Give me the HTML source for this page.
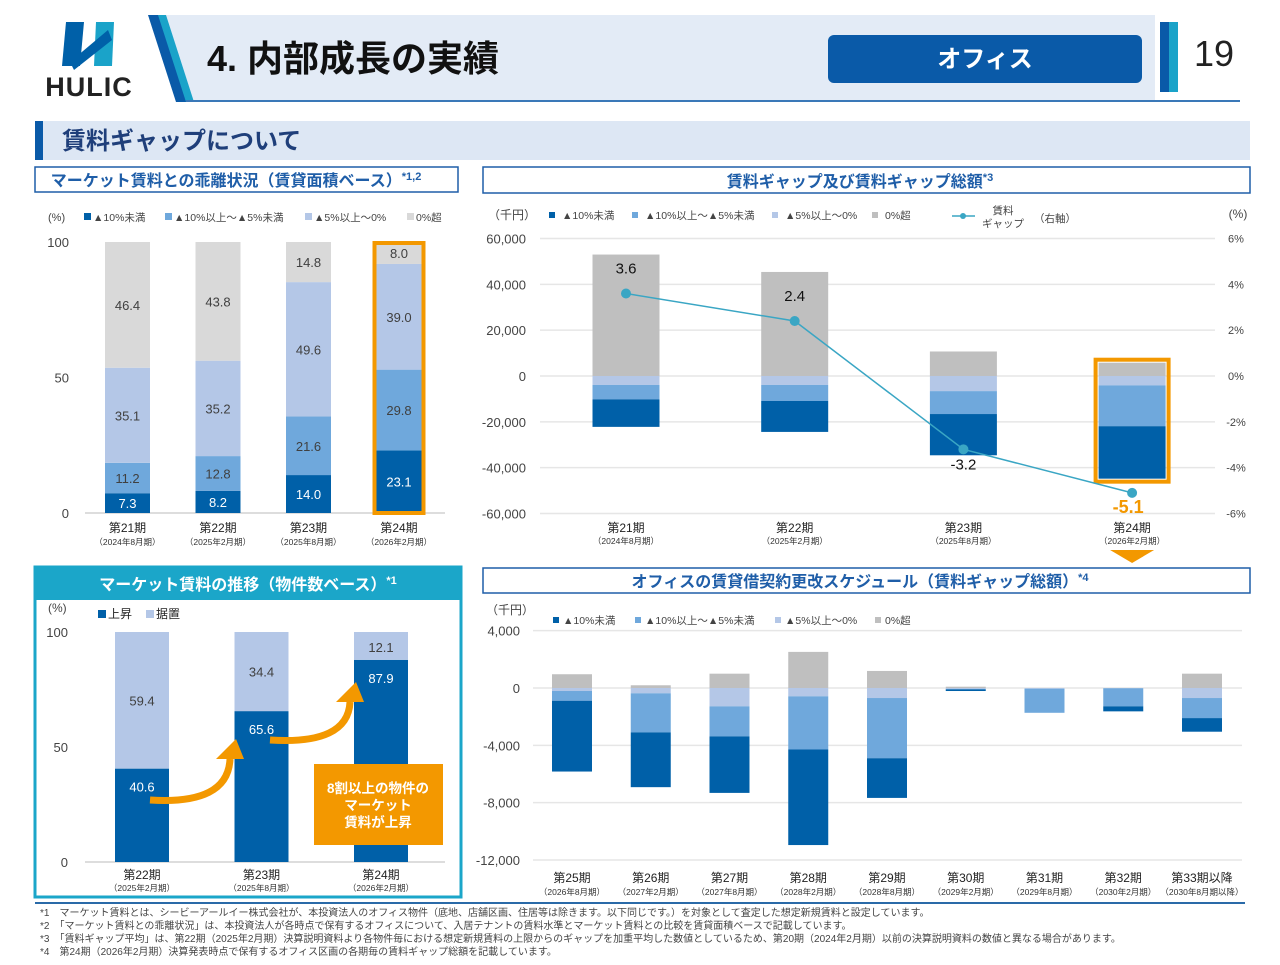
<!DOCTYPE html>
<html lang="ja"><head><meta charset="utf-8">
<style>
html,body{margin:0;padding:0;background:#fff;}
body{width:1280px;height:960px;overflow:hidden;position:relative;font-family:"Liberation Sans","Noto Sans CJK JP",sans-serif;}
svg text{font-family:"Liberation Sans","Noto Sans CJK JP",sans-serif;}
</style></head><body>
<svg id="pg" width="1280" height="960" viewBox="0 0 1280 960" xmlns="http://www.w3.org/2000/svg">
  <g>
    <polygon points="66,22 84,22 80,66 62,66" fill="#0060a8"/>
    <polygon points="96,22 114,22 112,66 94,66" fill="#1aa3c9"/>
    <polygon points="70,62 108,30 112,40 74,70" fill="#0060a8"/>
    <text x="89" y="96" font-size="27" font-weight="bold" fill="#222" text-anchor="middle" letter-spacing="1">HULIC</text>
  </g>
  <polygon points="160,15 1155,15 1155,102 190,102" fill="#e3ebf6"/>
  <polygon points="148,15 162,15 190,102 176,102" fill="#0a5aa8"/>
  <polygon points="158,15 166,15 194,102 186,102" fill="#1aa3c9"/>
  <rect x="186" y="100" width="1054" height="2" fill="#3a78b8"/>
  <text x="207" y="71" font-size="36" font-weight="bold" fill="#111">4. 内部成長の実績</text>
  <rect x="828" y="35" width="314" height="48" rx="6" fill="#0a5aa8"/>
  <text x="985" y="67" font-size="24" font-weight="bold" fill="#fff" text-anchor="middle">オフィス</text>
  <rect x="1160" y="22" width="9" height="70" fill="#0a5aa8"/>
  <rect x="1169" y="22" width="9" height="70" fill="#1aa3c9"/>
  <text x="1214" y="66" font-size="36" fill="#222" text-anchor="middle">19</text>

  <rect x="35" y="121" width="1215" height="39" fill="#dde7f4"/>
  <rect x="35" y="121" width="8" height="39" fill="#0a5aa8"/>
  <text x="62" y="149" font-size="24" font-weight="bold" fill="#1f3f7a">賃料ギャップについて</text>

  <rect x="35" y="167" width="423" height="25" fill="#fff" stroke="#1f5ea8" stroke-width="1.5"/>
  <text x="236" y="186" font-size="16" font-weight="bold" fill="#1f5ea8" text-anchor="middle">マーケット賃料との乖離状況（賃貸面積ベース）<tspan font-size="11" dy="-6">*1,2</tspan></text>
  <rect x="483" y="167" width="767" height="26" fill="#fff" stroke="#1f5ea8" stroke-width="1.5"/>
  <text x="860" y="187" font-size="16" font-weight="bold" fill="#1f5ea8" text-anchor="middle">賃料ギャップ及び賃料ギャップ総額<tspan font-size="11" dy="-6">*3</tspan></text>
  <rect x="483" y="568" width="767" height="25" fill="#fff" stroke="#1f5ea8" stroke-width="1.5"/>
  <text x="860" y="587" font-size="16" font-weight="bold" fill="#1f5ea8" text-anchor="middle">オフィスの賃貸借契約更改スケジュール（賃料ギャップ総額）<tspan font-size="11" dy="-6">*4</tspan></text>

  <rect x="35" y="567" width="426" height="330" fill="#fff" stroke="#1ba6c9" stroke-width="3"/>
  <rect x="35" y="567" width="426" height="33" fill="#1ba6c9"/>
  <text x="248" y="590" font-size="16" font-weight="bold" fill="#fff" text-anchor="middle">マーケット賃料の推移（物件数ベース）<tspan font-size="11" dy="-6">*1</tspan></text>

  <rect x="35" y="902" width="1210" height="2" fill="#2a6aa8"/>
  <g font-size="10" fill="#444">
    <text x="40" y="916">*1　マーケット賃料とは、シービーアールイー株式会社が、本投資法人のオフィス物件（底地、店舗区画、住居等は除きます。以下同じです。）を対象として査定した想定新規賃料と設定しています。</text>
    <text x="40" y="929">*2　「マーケット賃料との乖離状況」は、本投資法人が各時点で保有するオフィスについて、入居テナントの賃料水準とマーケット賃料との比較を賃貸面積ベースで記載しています。</text>
    <text x="40" y="942">*3　「賃料ギャップ平均」は、第22期（2025年2月期）決算説明資料より各物件毎における想定新規賃料の上限からのギャップを加重平均した数値としているため、第20期（2024年2月期）以前の決算説明資料の数値と異なる場合があります。</text>
    <text x="40" y="955">*4　第24期（2026年2月期）決算発表時点で保有するオフィス区画の各期毎の賃料ギャップ総額を記載しています。</text>
  </g>
  <g id="charts"></g>
</svg>
<script>
// ---------- chart 1 data ----------
const c1Cats=['第21期','第22期','第23期','第24期'];
const c1Subs=['（2024年8月期）','（2025年2月期）','（2025年8月期）','（2026年2月期）'];
const c1Dark=[7.3,8.2,14.0,23.1];
const c1Mid=[11.2,12.8,21.6,29.8];
const c1Light=[35.1,35.2,49.6,39.0];
const c1Gray=[46.4,43.8,14.8,8.0];
const c1Ticks=[0,50,100];
// ---------- chart 2 data ----------
const c2Cats=['第21期','第22期','第23期','第24期'];
const c2Subs=['（2024年8月期）','（2025年2月期）','（2025年8月期）','（2026年2月期）'];
const c2Gray=[53000,45400,10700,5800];
const c2Light=[-3900,-3900,-6600,-4100];
const c2Mid=[-6300,-7000,-10000,-17800];
const c2Dark=[-12000,-13500,-18000,-22900];
const c2Gap=[3.6,2.4,-3.2,-5.1];
const c2Ticks=[60000,40000,20000,0,-20000,-40000,-60000];
const c2RTicks=[6,4,2,0,-2,-4,-6];
// ---------- chart 3 data ----------
const c3Cats=['第25期','第26期','第27期','第28期','第29期','第30期','第31期','第32期','第33期以降'];
const c3Subs=['（2026年8月期）','（2027年2月期）','（2027年8月期）','（2028年2月期）','（2028年8月期）','（2029年2月期）','（2029年8月期）','（2030年2月期）','（2030年8月期以降）'];
const c3Gray=[960,190,1000,2520,1190,90,0,0,1000];
const c3Light=[-210,-370,-1280,-580,-700,-60,-50,-20,-700];
const c3Mid=[-680,-2730,-2100,-3710,-4200,-40,-1680,-1260,-1400];
const c3Dark=[-4940,-3820,-3940,-6670,-2770,-110,0,-350,-950];
const c3Ticks=[4000,0,-4000,-8000,-12000];
// ---------- chart 4 data ----------
const c4Cats=['第22期','第23期','第24期'];
const c4Subs=['（2025年2月期）','（2025年8月期）','（2026年2月期）'];
const c4Up=[40.6,65.6,87.9];
const c4Flat=[59.4,34.4,12.1];
const c4Ticks=[0,50,100];

const NS='http://www.w3.org/2000/svg';
const root=document.getElementById('charts');
const C={dark:'#0060a8',mid:'#6fa8dc',light:'#b4c7e7',gray:'#bfbfbf',gray1:'#d9d9d9',axis:'#444',grid:'#e6e6e6',orange:'#f39800'};
function mk(tag,attrs,parent,txt){const e=document.createElementNS(NS,tag);for(const k in attrs)e.setAttribute(k,attrs[k]);if(txt!==undefined)e.textContent=txt;(parent||root).appendChild(e);return e;}
function fmt(v){return v.toLocaleString('en-US');}

// ===== Chart 1 =====
const g1=mk('g',{});


const y1=v=>513-v*2.71, x1=i=>127.5+i*90.5, w1=45;
c1Ticks.forEach(t=>{const tl=mk('text',{x:69,y:y1(t)+5,'font-size':13,fill:C.axis,'text-anchor':'end'},g1,String(t));

});
mk('line',{x1:85,x2:445,y1:y1(0),y2:y1(0),stroke:'#bbb'},g1);
mk('text',{x:48,y:221,'font-size':11,fill:C.axis},g1,'(%)');
[['▲10%未満',C.dark,84],['▲10%以上～▲5%未満',C.mid,165],['▲5%以上～0%',C.light,305],['0%超',C.gray1,407]].forEach(l=>{
 const lg=mk('g',{},g1);
 
 
 mk('rect',{x:l[2],y:213,width:7,height:7,fill:l[1]},lg);mk('text',{x:l[2]+9,y:221,'font-size':10.5,fill:C.axis},lg,l[0]);});
c1Cats.forEach((c,i)=>{
 let base=0;
 [[c1Dark[i],C.dark,'#fff'],[c1Mid[i],C.mid,'#404040'],[c1Light[i],C.light,'#404040'],[c1Gray[i],C.gray1,'#404040']].forEach(s=>{
  const r=mk('rect',{x:x1(i)-w1/2,y:y1(base+s[0]),width:w1,height:s[0]*2.71,fill:s[1]},g1);
  
  
  mk('text',{x:x1(i),y:y1(base+s[0]/2)+5,'font-size':13,fill:s[2],'text-anchor':'middle'},g1,s[0].toFixed(1));
  base+=s[0];});
 mk('text',{x:x1(i),y:532,'font-size':12,fill:'#222','text-anchor':'middle'},g1,c);
 mk('text',{x:x1(i),y:545,'font-size':8.5,fill:'#333','text-anchor':'middle'},g1,c1Subs[i]);
});
const hl1=mk('rect',{x:x1(3)-w1/2-2,y:y1(100)+1,width:w1+4,height:y1(0)-y1(100)-1,fill:'none',stroke:C.orange,'stroke-width':4},g1);



// ===== Chart 2 =====
const g2=mk('g',{});


const sc2=137.5/60000, y2=v=>376-v*sc2, yr=p=>376-p*137.5/6, x2=i=>626+i*168.7, w2=67;
c2Ticks.forEach(t=>{mk('line',{x1:540,x2:1215,y1:y2(t),y2:y2(t),stroke:C.grid,'stroke-width':1.5},g2);
 const tl=mk('text',{x:526,y:y2(t)+5,'font-size':13,fill:C.axis,'text-anchor':'end'},g2,fmt(t));
 
 });
c2RTicks.forEach(t=>{const tl=mk('text',{x:1236,y:yr(t)+4,'font-size':11,fill:C.axis,'text-anchor':'middle'},g2,t+'%');
 
 });
mk('text',{x:488,y:219,'font-size':12,fill:C.axis},g2,'（千円）');
mk('text',{x:1238,y:218,'font-size':12,fill:C.axis,'text-anchor':'middle'},g2,'(%)');
[['▲10%未満',C.dark,549],['▲10%以上～▲5%未満',C.mid,632],['▲5%以上～0%',C.light,772],['0%超',C.gray,872]].forEach(l=>{
 const lg=mk('g',{},g2);
 
 
 mk('rect',{x:l[2],y:212,width:6,height:6,fill:l[1]},lg);mk('text',{x:l[2]+13,y:219,'font-size':10.5,fill:C.axis},lg,l[0]);});
const lgl=mk('g',{},g2);


mk('line',{x1:952,x2:975,y1:216,y2:216,stroke:'#3aa6c4','stroke-width':1.5},lgl);
mk('circle',{cx:963,cy:216,r:3,fill:'#3aa6c4'},lgl);
mk('text',{x:1003,y:214,'font-size':10.5,fill:C.axis,'text-anchor':'middle'},lgl,'賃料');
mk('text',{x:1003,y:227,'font-size':10.5,fill:C.axis,'text-anchor':'middle'},lgl,'ギャップ');
mk('text',{x:1034,y:222,'font-size':10.5,fill:C.axis},lgl,'（右軸）');
c2Cats.forEach((c,i)=>{
 const g=mk('rect',{x:x2(i)-w2/2,y:y2(c2Gray[i]),width:w2,height:c2Gray[i]*sc2,fill:C.gray},g2);
 
 
 let base=0;
 [[c2Light[i],C.light],[c2Mid[i],C.mid],[c2Dark[i],C.dark]].forEach(s=>{
  const r=mk('rect',{x:x2(i)-w2/2,y:y2(base),width:w2,height:-s[0]*sc2,fill:s[1]},g2);
  
  
  base+=s[0];});
 mk('text',{x:x2(i),y:532,'font-size':12,fill:'#222','text-anchor':'middle'},g2,c);
 mk('text',{x:x2(i),y:544,'font-size':8.5,fill:'#333','text-anchor':'middle'},g2,c2Subs[i]);
});
{const i=3;let bot=c2Light[i]+c2Mid[i]+c2Dark[i];
 const hl=mk('rect',{x:x2(i)-w2/2-3,y:y2(c2Gray[i])-3,width:w2+6,height:(c2Gray[i]-bot)*sc2+6,fill:'none',stroke:C.orange,'stroke-width':4},g2);
 
 
 const tri=mk('polygon',{points:`${x2(i)-22},550 ${x2(i)+22},550 ${x2(i)},563`,fill:C.orange},g2);
 
 }
const ln=mk('polyline',{points:c2Gap.map((p,i)=>x2(i)+','+yr(p)).join(' '),fill:'none',stroke:'#3aa6c4','stroke-width':1.5},g2);


c2Gap.forEach((p,i)=>{const d=mk('circle',{cx:x2(i),cy:yr(p),r:5,fill:'#3aa6c4'},g2);
 
 
 const last=i===3;
 const ty=p>0?yr(p)-20:yr(p)+20;
 mk('text',{x:x2(i)+(last?-4:0),y:ty,'font-size':last?18:15,'font-weight':last?'bold':'normal',fill:last?C.orange:'#111','text-anchor':'middle'},g2,p.toFixed(1));});

// ===== Chart 3 =====
const g3=mk('g',{});


const sc3=14.33/1000, y3=v=>688-v*sc3, x3=i=>572+i*78.75, w3=40;
c3Ticks.forEach(t=>{mk('line',{x1:533,x2:1242,y1:y3(t),y2:y3(t),stroke:C.grid,'stroke-width':1.5},g3);
 const tl=mk('text',{x:520,y:y3(t)+5,'font-size':13,fill:C.axis,'text-anchor':'end'},g3,fmt(t));
 
 });
mk('text',{x:486,y:614,'font-size':12,fill:C.axis},g3,'（千円）');
[['▲10%未満',C.dark,553],['▲10%以上～▲5%未満',C.mid,635],['▲5%以上～0%',C.light,775],['0%超',C.gray,875]].forEach(l=>{
 const lg=mk('g',{},g3);
 
 
 mk('rect',{x:l[2],y:617,width:6,height:6,fill:l[1]},lg);mk('text',{x:l[2]+10,y:624,'font-size':10.5,fill:C.axis},lg,l[0]);});
c3Cats.forEach((c,i)=>{
 if(c3Gray[i]>0){const g=mk('rect',{x:x3(i)-w3/2,y:y3(c3Gray[i]),width:w3,height:c3Gray[i]*sc3,fill:C.gray},g3);
  
  }
 let base=0;
 [[c3Light[i],C.light],[c3Mid[i],C.mid],[c3Dark[i],C.dark]].forEach(s=>{
  const r=mk('rect',{x:x3(i)-w3/2,y:y3(base),width:w3,height:-s[0]*sc3,fill:s[1]},g3);
  
  
  base+=s[0];});
 mk('text',{x:x3(i),y:882,'font-size':12,fill:'#222','text-anchor':'middle'},g3,c);
 mk('text',{x:x3(i),y:895,'font-size':8.5,fill:'#333','text-anchor':'middle'},g3,c3Subs[i]);
});

// ===== Chart 4 =====
const g4=mk('g',{});


const y4=v=>862-v*2.3, x4=i=>142+i*119.5, w4=54;
c4Ticks.forEach(t=>{const tl=mk('text',{x:68,y:y4(t)+5,'font-size':13,fill:C.axis,'text-anchor':'end'},g4,String(t));
 
 });
mk('line',{x1:85,x2:445,y1:y4(0),y2:y4(0),stroke:'#bbb'},g4);
mk('text',{x:48,y:612,'font-size':12,fill:C.axis},g4,'(%)');
[['上昇',C.dark,98],['据置',C.light,146]].forEach(l=>{
 const lg=mk('g',{},g4);
 
 
 mk('rect',{x:l[2],y:610,width:8,height:8,fill:l[1]},lg);mk('text',{x:l[2]+10,y:618,'font-size':12,fill:'#222'},lg,l[0]);});
c4Cats.forEach((c,i)=>{
 const u=mk('rect',{x:x4(i)-w4/2,y:y4(c4Up[i]),width:w4,height:c4Up[i]*2.3,fill:C.dark},g4);
 
 
 const f=mk('rect',{x:x4(i)-w4/2,y:y4(c4Up[i]+c4Flat[i]),width:w4,height:c4Flat[i]*2.3,fill:C.light},g4);
 
 
 mk('text',{x:x4(i),y:y4(c4Up[i])+23,'font-size':13,fill:'#fff','text-anchor':'middle'},g4,c4Up[i].toFixed(1));
 mk('text',{x:x4(i),y:y4(c4Up[i]+c4Flat[i]/2)+(i===2?6:5),'font-size':13,fill:'#404040','text-anchor':'middle'},g4,c4Flat[i].toFixed(1));
 mk('text',{x:x4(i),y:879,'font-size':12,fill:'#222','text-anchor':'middle'},g4,c);
 mk('text',{x:x4(i),y:891,'font-size':8.5,fill:'#333','text-anchor':'middle'},g4,c4Subs[i]);
});
[[150,800,238,745],[270,740,358,688]].forEach(a=>{
 const ar=mk('g',{},g4);
 
 
 mk('path',{d:`M${a[0]},${a[1]} Q${a[2]-10},${a[1]+5} ${a[2]-8},${a[3]+14}`,fill:'none',stroke:C.orange,'stroke-width':7},ar);
 mk('polygon',{points:`${a[2]-22},${a[3]+14} ${a[2]+6},${a[3]+14} ${a[2]-2},${a[3]-6}`,fill:C.orange},ar);
});
const cb=mk('g',{},g4);


mk('rect',{x:314,y:764,width:129,height:81,fill:C.orange},cb);
['8割以上の物件の','マーケット','賃料が上昇'].forEach((t,k)=>mk('text',{x:378,y:793+k*17,'font-size':13.5,'font-weight':'bold',fill:'#fff','text-anchor':'middle'},cb,t));
</script>
</body></html>
